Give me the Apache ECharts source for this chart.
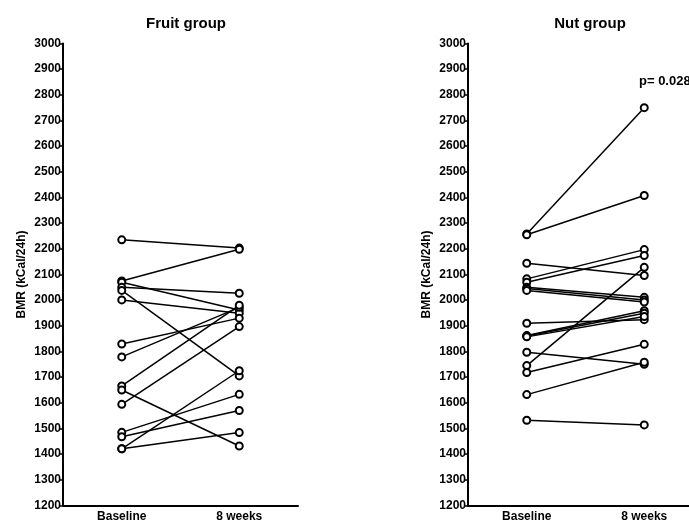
<!DOCTYPE html>
<html>
<head>
<meta charset="utf-8">
<script src="https://cdn.jsdelivr.net/npm/echarts@6/dist/echarts.min.js"></script>
<style>
html,body{margin:0;padding:0;background:#fff;}
#chart{width:689px;height:522px;}
</style>
</head>
<body>
<div id="chart"></div>
<script>
var categories = ['Baseline', '8 weeks'];
var fruitBaseline = [2235, 2075, 2070, 2050, 2038, 2001, 1829, 1779, 1666, 1650, 1594, 1485, 1468, 1421, 1421];
var fruitWeek8    = [2203, 2198, 1962, 2027, 1705, 1949, 1930, 1972, 1980, 1432, 1897, 1633, 1570, 1725, 1484];
var nutBaseline = [2258, 2255, 2144, 2083, 2070, 2050, 2045, 2038, 1910, 1862, 1860, 1857, 1797, 1745, 1718, 1632, 1532];
var nutWeek8    = [2750, 2408, 2096, 2197, 2174, 2011, 2001, 1993, 1924, 1959, 1949, 1936, 1750, 2128, 1828, 1758, 1514];
var titles = ['Fruit group', 'Nut group'];
var yTitle = 'BMR (kCal/24h)';
var pText = 'p= 0.028';

var FONT = '"Liberation Sans", Arial, sans-serif';
var chart = echarts.init(document.getElementById('chart'), null, {renderer: 'canvas'});

function xAxis(idx) {
  return {
    type: 'category', gridIndex: idx, data: categories, boundaryGap: true,
    axisLine: {lineStyle: {color: '#000', width: 2}},
    axisTick: {alignWithLabel: true, length: 4, lineStyle: {color: '#000', width: 1.5}},
    axisLabel: {color: '#000', fontWeight: 'bold', fontSize: 12, fontFamily: FONT, margin: 5},
    splitLine: {show: false}
  };
}
function yAxis(idx) {
  return {
    type: 'value', gridIndex: idx, min: 1200, max: 3000, interval: 100,
    name: yTitle, nameLocation: 'middle', nameRotate: 90, nameGap: 35,
    nameTextStyle: {color: '#000', fontWeight: 'bold', fontSize: 12, fontFamily: FONT},
    axisLine: {show: true, lineStyle: {color: '#000', width: 2}},
    axisTick: {show: true, length: 4, lineStyle: {color: '#000', width: 1.5}},
    axisLabel: {color: '#000', fontWeight: 'bold', fontSize: 12, fontFamily: FONT, margin: 2,
                formatter: function (v) { return String(v); }},
    splitLine: {show: false}
  };
}
function pairSeries(base, wk, idx) {
  var out = [];
  for (var i = 0; i < base.length; i++) {
    out.push({
      type: 'line', xAxisIndex: idx, yAxisIndex: idx,
      data: [base[i], wk[i]],
      symbol: 'emptyCircle', symbolSize: 7, silent: true,
      lineStyle: {color: '#000', width: 1.5},
      itemStyle: {color: '#000', borderColor: '#000', borderWidth: 1.5},
      animation: false
    });
  }
  return out;
}

var option = {
  backgroundColor: '#fff',
  animation: false,
  title: [
    {text: titles[0], left: 181, top: 11, textAlign: 'center',
     textStyle: {fontSize: 15, fontWeight: 'bold', color: '#000', fontFamily: FONT}},
    {text: titles[1], left: 585, top: 11, textAlign: 'center',
     textStyle: {fontSize: 15, fontWeight: 'bold', color: '#000', fontFamily: FONT}}
  ],
  grid: [
    {left: 63, top: 43.5, width: 235, height: 462, containLabel: false, outerBoundsMode: 'none'},
    {left: 468, top: 43.5, width: 235, height: 462, containLabel: false, outerBoundsMode: 'none'}
  ],
  xAxis: [xAxis(0), xAxis(1)],
  yAxis: [yAxis(0), yAxis(1)],
  graphic: [
    {type: 'text', left: 639, top: 75,
     style: {text: pText, fill: '#000', font: 'bold 13px ' + FONT}}
  ],
  series: pairSeries(fruitBaseline, fruitWeek8, 0).concat(pairSeries(nutBaseline, nutWeek8, 1))
};
chart.setOption(option);
</script>
</body>
</html>
